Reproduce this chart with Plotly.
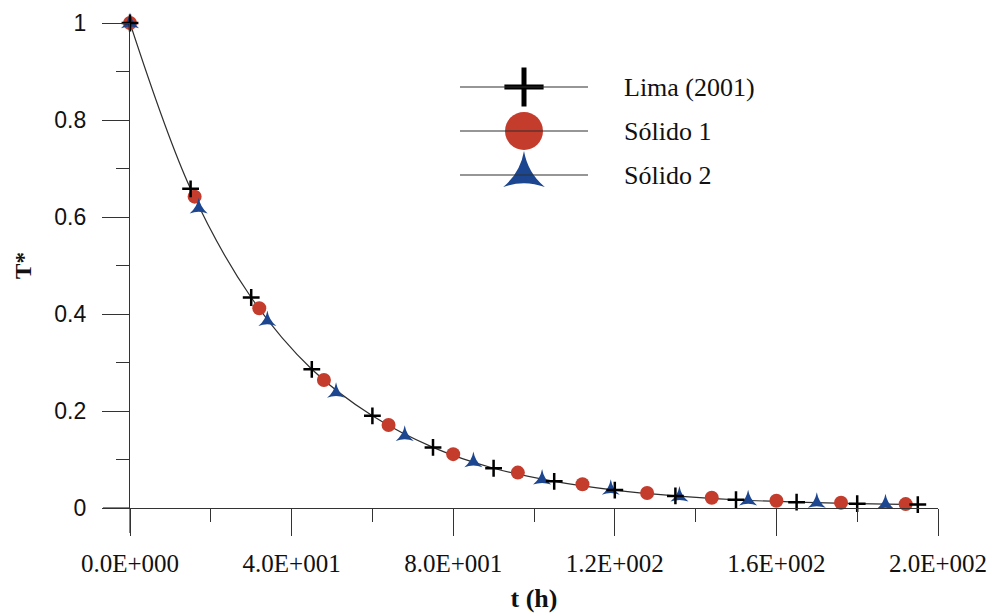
import plotly.graph_objects as go

# ---- data ----
lima_t = [0, 15, 30, 45, 60, 75, 90, 105, 120, 135, 150, 165, 180, 195]
lima_T = [1.0, 0.658, 0.434, 0.286, 0.190, 0.125, 0.082, 0.055, 0.037, 0.025, 0.017, 0.012, 0.009, 0.007]

s1_t = [0, 16, 32, 48, 64, 80, 96, 112, 128, 144, 160, 176, 192]
s1_T = [1.0, 0.642, 0.412, 0.264, 0.171, 0.111, 0.073, 0.049, 0.031, 0.021, 0.015, 0.011, 0.008]

s2_t = [0, 17, 34, 51, 68, 85, 102, 119, 136, 153, 170, 187]
s2_T = [1.0, 0.618, 0.386, 0.238, 0.149, 0.095, 0.059, 0.038, 0.024, 0.016, 0.011, 0.008]

x_tickvals = [0, 40, 80, 120, 160, 200]
x_ticktext = ["0.0E+000", "4.0E+001", "8.0E+001", "1.2E+002", "1.6E+002", "2.0E+002"]
y_tickvals = [0, 0.2, 0.4, 0.6, 0.8, 1]
y_ticktext = ["0", "0.2", "0.4", "0.6", "0.8", "1"]

legend_names = ["Lima (2001)", "Sólido 1", "Sólido 2"]

# ---- styles ----
W, H = 995, 614
ML, MR, MT, MB = 130, 57, 23, 106
LINE_COL = "#2e2e2e"
RED = "#c43c2c"
BLUE = "#1d4690"
AXIS_COL = "#333333"
SERIF = "Liberation Serif, Times New Roman, serif"
SANS = "Liberation Sans, Arial, sans-serif"

fig = go.Figure()

# model curve (drawn through Lima points)
fig.add_trace(go.Scatter(x=lima_t, y=lima_T, mode="lines",
                         line=dict(color=LINE_COL, width=1.2, shape="spline"),
                         showlegend=False, hoverinfo="skip", cliponaxis=False))

fig.add_trace(go.Scatter(x=s1_t, y=s1_T, mode="markers", name=legend_names[1],
                         marker=dict(symbol="circle", size=14, color=RED, line=dict(width=0)),
                         showlegend=False, cliponaxis=False))
fig.add_trace(go.Scatter(x=s2_t, y=s2_T, mode="markers", name=legend_names[2],
                         marker=dict(symbol="star-triangle-up", size=13, color=BLUE, line=dict(width=0)),
                         showlegend=False, cliponaxis=False))
fig.add_trace(go.Scatter(x=lima_t, y=lima_T, mode="markers", name=legend_names[0],
                         marker=dict(symbol="cross-thin", size=12, color="black",
                                     line=dict(color="black", width=2.5)),
                         showlegend=False, cliponaxis=False))

# ---- manual legend in a pixel-mapped overlay axis pair ----
leg_rows = [87, 131, 175]
leg_x0, leg_x1, leg_mx, leg_tx = 460, 588, 524, 622
leg_symbols = ["cross-thin", "circle", "star-triangle-up"]
leg_colors = ["black", RED, BLUE]
leg_sizes = [28, 38, 30]
for i in range(3):
    fig.add_shape(type="line", xref="x2", yref="y2", x0=leg_x0, x1=leg_x1,
                  y0=leg_rows[i], y1=leg_rows[i], line=dict(color=LINE_COL, width=1.2))
    mk = dict(symbol=leg_symbols[i], size=leg_sizes[i], color=leg_colors[i])
    if i == 0:
        mk["line"] = dict(color="black", width=5)
    else:
        mk["line"] = dict(width=0)
    fig.add_trace(go.Scatter(x=[leg_mx], y=[leg_rows[i]], mode="markers", xaxis="x2", yaxis="y2",
                             marker=mk, showlegend=False, hoverinfo="skip", cliponaxis=False))
    fig.add_annotation(xref="x2", yref="y2", x=leg_tx, y=leg_rows[i], text=legend_names[i],
                       showarrow=False, xanchor="left", yanchor="middle",
                       font=dict(family=SERIF, size=26, color="#111"))

# axis line extensions past the origin
fig.add_shape(type="line", xref="paper", yref="paper", x0=-27 / 808, x1=0, y0=0, y1=0,
              line=dict(color=AXIS_COL, width=1.2))
fig.add_shape(type="line", xref="paper", yref="paper", x0=0, x1=0, y0=-25 / 485, y1=0,
              line=dict(color=AXIS_COL, width=1.2))

fig.update_layout(
    width=W, height=H,
    margin=dict(l=ML, r=MR, t=MT, b=MB, pad=0, autoexpand=False),
    paper_bgcolor="white", plot_bgcolor="rgba(0,0,0,0)",
    showlegend=False,
    xaxis=dict(range=[0, 200], tickvals=x_tickvals, ticktext=x_ticktext, automargin=False,
               showgrid=False, zeroline=False, showline=True, linecolor=AXIS_COL, linewidth=1.2,
               ticks="outside", ticklen=27, tickwidth=1.2, tickcolor=AXIS_COL,
               minor=dict(dtick=20, tick0=0, ticks="outside", ticklen=13, tickwidth=1.2,
                          tickcolor=AXIS_COL, showgrid=False),
               ticklabelstandoff=6,
               tickfont=dict(family=SERIF, size=25, color="#111"),
               title=dict(text="<b>t (h)</b>", font=dict(family=SERIF, size=26, color="#111"),
                          standoff=12)),
    yaxis=dict(range=[0, 1], tickvals=y_tickvals, ticktext=y_ticktext, automargin=False,
               showgrid=False, zeroline=False, showline=True, linecolor=AXIS_COL, linewidth=1.2,
               ticks="outside", ticklen=27, tickwidth=1.2, tickcolor=AXIS_COL,
               minor=dict(dtick=0.1, tick0=0, ticks="outside", ticklen=13, tickwidth=1.2,
                          tickcolor=AXIS_COL, showgrid=False),
               ticklabelstandoff=11,
               tickfont=dict(family=SANS, size=23, color="#111"),
               title=dict(text="<b>T*</b>", font=dict(family=SERIF, size=23, color="#111"),
                          standoff=16)),
    xaxis2=dict(overlaying="x", range=[ML, W - MR], visible=False, anchor="y2", fixedrange=True),
    yaxis2=dict(overlaying="y", range=[H - MB, MT], visible=False, anchor="x2", fixedrange=True),
)

fig.write_html("out.html")
